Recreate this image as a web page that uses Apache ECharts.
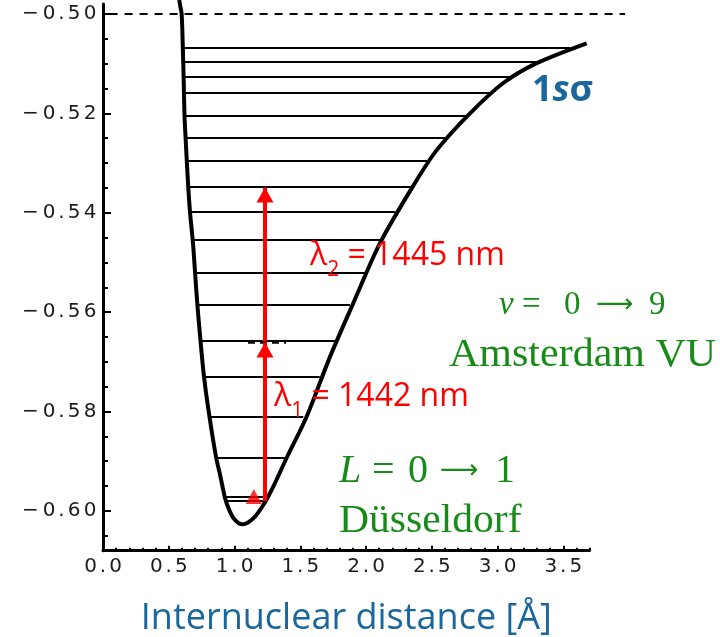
<!DOCTYPE html>
<html><head><meta charset="utf-8">
<script src="https://cdn.jsdelivr.net/npm/echarts@6/dist/echarts.min.js"></script>
<style>html,body{margin:0;padding:0;background:#fff}#c{width:720px;height:637px}</style>
</head><body><div id="c"></div>
<script>
// ---- data ----
const curveR = [0.580, 0.586, 0.598, 0.607, 0.613, 0.620, 0.628, 0.637, 0.648, 0.662, 0.684, 0.700, 0.718, 0.740, 0.768, 0.810, 0.860, 0.890, 0.925, 0.945, 0.991, 1.062,
                1.143, 1.219, 1.295, 1.397, 1.549, 1.726, 1.903, 2.1065, 2.370, 2.5376, 2.7909, 3.0441, 3.2981, 3.6783];
const curveE = [-0.4972, -0.4982, -0.5000, -0.5068, -0.5127, -0.5205, -0.5249, -0.5295, -0.5347, -0.5400, -0.5460, -0.5520, -0.5586, -0.5653, -0.5730, -0.5811, -0.5892, -0.5927, -0.5971, -0.5988, -0.6014, -0.6027,
                -0.6015, -0.5988, -0.5951, -0.5893, -0.5810, -0.5690, -0.5582, -0.5461, -0.5341, -0.5274, -0.5200, -0.5139, -0.5099, -0.5059];
const levelE     = [-0.5068, -0.5097, -0.5127, -0.5158, -0.5205, -0.5249, -0.5295, -0.5347, -0.5398, -0.5455, -0.5520, -0.5586, -0.5657, -0.5730, -0.5811, -0.5892, -0.5971, -0.5980];
const levelLeft  = [0.612, 0.614, 0.617, 0.622, 0.627, 0.634, 0.643, 0.654, 0.668, 0.688, 0.708, 0.726, 0.750, 0.776, 0.816, 0.866, 0.930, 0.937];
const levelRight = [3.551, 3.298, 3.120, 2.956, 2.766, 2.614, 2.487, 2.360, 2.221, 2.119, 2.005, 1.878, 1.763, 1.648, 1.523, 1.397, 1.240, 1.240];
const arrowR = 1.232;
const arrow1E = [-0.5980, -0.5661];
const arrow2E = [-0.5659, -0.5349];
const pumpR = 1.147, pumpE = -0.5971;
const midDashR = [1.103, 1.392], midDashE = -0.5661;
const limitR = [0.05, 3.97], limitE = -0.5;
const yTicks = [-0.60, -0.58, -0.56, -0.54, -0.52, -0.50];
const yMinorTicks = [-0.605, -0.595, -0.590, -0.585, -0.575, -0.570, -0.565, -0.555, -0.550, -0.545, -0.535, -0.530, -0.525, -0.515, -0.510, -0.505];
const xTicks = [0.0, 0.5, 1.0, 1.5, 2.0, 2.5, 3.0, 3.5];
const xMinorTicks = [0.1,0.2,0.3,0.4,0.6,0.7,0.8,0.9,1.1,1.2,1.3,1.4,1.6,1.7,1.8,1.9,2.1,2.2,2.3,2.4,2.6,2.7,2.8,2.9,3.1,3.2,3.3,3.4,3.6,3.7];
const xTitle = 'Internuclear distance [Å]';

const BLUE = '#19679c', GREEN = '#188a18', RED = '#ff0000';
const xMin = 0, xMax = 3.7, yMin = -0.608, yMax = -0.498;
const pxPerR = 131.5, pxPerE = 4970;

const chart = echarts.init(document.getElementById('c'), null, {renderer: 'canvas'});

// tick labels: each character in its own fixed-width cell (wide lettering like the reference)
const tf = {fontFamily: 'DejaVu Sans', fontSize: 20, color: '#1c1c1c', align: 'center'};
const tickRich = {d: {...tf, width: 16}, p: {...tf, width: 9}, m: {...tf, width: 21}};
function spaced(s) {
  return s.split('').map(ch => '{' + (ch === '\u2212' ? 'm' : ch === '.' ? 'p' : 'd') + '|' + ch + '}').join('');
}

const serif = 'Liberation Serif';

const option = {
  animation: false,
  grid: {left: 103, top: 4, width: (xMax - xMin) * pxPerR, height: (yMax - yMin) * pxPerE, outerBoundsMode: 'none', containLabel: false},
  xAxis: [
    {type: 'value', min: xMin, max: xMax, position: 'bottom',
     axisLine: {show: true, onZero: false, lineStyle: {color: '#000', width: 3}},
     axisTick: {show: true, inside: true, length: 5, customValues: xTicks, lineStyle: {color: '#000', width: 2}},
     axisLabel: {show: true, margin: 6, customValues: xTicks, formatter: v => spaced(v.toFixed(1)), rich: tickRich},
     splitLine: {show: false},
     name: xTitle, nameLocation: 'middle', nameGap: 50,
     nameTextStyle: {fontFamily: 'Open Sans', fontSize: 36, color: BLUE}},
    {type: 'value', min: xMin, max: xMax, position: 'bottom',
     axisLine: {show: false, onZero: false},
     axisTick: {show: true, inside: true, length: 3, customValues: xMinorTicks, lineStyle: {color: '#000', width: 2}},
     axisLabel: {show: false}, splitLine: {show: false}}
  ],
  yAxis: [
    {type: 'value', min: yMin, max: yMax, position: 'left',
     axisLine: {show: true, onZero: false, lineStyle: {color: '#000', width: 3}},
     axisTick: {show: true, inside: true, length: 8, customValues: yTicks, lineStyle: {color: '#000', width: 2}},
     axisLabel: {show: true, margin: 5, customValues: yTicks, formatter: v => spaced('\u2212' + Math.abs(v).toFixed(2)), rich: tickRich},
     splitLine: {show: false}},
    {type: 'value', min: yMin, max: yMax, position: 'left',
     axisLine: {show: false, onZero: false},
     axisTick: {show: true, inside: true, length: 5, customValues: yMinorTicks, lineStyle: {color: '#000', width: 2}},
     axisLabel: {show: false}, splitLine: {show: false}}
  ],
  series: [
    {type: 'lines', coordinateSystem: 'cartesian2d', z: 2,
     data: levelE.map((e, i) => ({coords: [[levelLeft[i], e], [levelRight[i], e]]})),
     lineStyle: {color: '#000', width: 2, opacity: 1}, symbol: 'none'},
    {type: 'line', clip: false, z: 3, symbol: 'none', smooth: 0.3,
     data: curveR.map((r, i) => [r, curveE[i]]),
     lineStyle: {color: '#000', width: 4}},
    {type: 'lines', coordinateSystem: 'cartesian2d', clip: false, z: 2, symbol: 'none',
     data: [{coords: [[limitR[0], limitE], [limitR[1], limitE]]}],
     lineStyle: {color: '#000', width: 2, type: [8, 7], opacity: 1}},
    {type: 'line', z: 4, symbol: 'none',
     data: [[midDashR[0], midDashE], [midDashR[1], midDashE]],
     lineStyle: {color: '#000', width: 2.5, type: [7, 5]}},
    {type: 'line', z: 5, symbol: 'none', itemStyle: {color: RED},
     data: [[arrowR, arrow1E[0]], {value: [arrowR, arrow1E[1]], symbol: 'triangle', symbolSize: [17, 15], symbolOffset: [0, '50%']}],
     lineStyle: {color: RED, width: 4}},
    {type: 'line', z: 5, symbol: 'none', itemStyle: {color: RED},
     data: [[arrowR, arrow2E[0]], {value: [arrowR, arrow2E[1]], symbol: 'triangle', symbolSize: [17, 15], symbolOffset: [0, '50%']}],
     lineStyle: {color: RED, width: 4}},
    {type: 'scatter', z: 6, symbol: 'triangle', symbolSize: [16, 15], itemStyle: {color: RED},
     data: [[pumpR, pumpE]]}
  ],
  graphic: [
    {type: 'text', x: 532, y: 73, z: 10,
     style: {text: '{b|1}{i|s}{b|σ}', fill: BLUE,
       rich: {b: {fontFamily: 'Open Sans', fontWeight: 'bold', fontSize: 36, fill: BLUE},
              i: {fontFamily: 'Open Sans', fontWeight: 'bold', fontStyle: 'italic', fontSize: 36, fill: BLUE}}}},
    {type: 'text', x: 310, y: 240, z: 10,
     style: {text: '{a|λ}{s|2}{a| = 1445 nm}', fill: RED,
       rich: {a: {fontFamily: 'Open Sans', fontSize: 32, fill: RED, verticalAlign: 'bottom', padding: [0, 0, 9, 0]},
              s: {fontFamily: 'Open Sans', fontSize: 21, fill: RED, verticalAlign: 'bottom'}}}},
    {type: 'text', x: 274, y: 381, z: 10,
     style: {text: '{a|λ}{s|1}{a| = 1442 nm}', fill: RED,
       rich: {a: {fontFamily: 'Open Sans', fontSize: 32, fill: RED, verticalAlign: 'bottom', padding: [0, 0, 9, 0]},
              s: {fontFamily: 'Open Sans', fontSize: 21, fill: RED, verticalAlign: 'bottom'}}}},
    {type: 'text', x: 499, y: 289, z: 10,
     style: {text: '{i|v}{e|=}{t|0}{r|⟶}{t|9}', fill: GREEN,
       rich: {
         i: {fontFamily: serif, fontStyle: 'italic', fontSize: 33, fill: GREEN, width: 23, align: 'left'},
         e: {fontFamily: serif, fontSize: 33, fill: GREEN, width: 42, align: 'left'},
         t: {fontFamily: serif, fontSize: 33, fill: GREEN, width: 32, align: 'left'},
         r: {fontFamily: 'DejaVu Sans', fontSize: 26, fill: GREEN, width: 53, align: 'left'}}}},
    {type: 'text', x: 449, y: 335, z: 10, scaleX: 1.05,
     style: {text: 'Amsterdam VU', fontFamily: serif, fontSize: 40, fill: GREEN}},
    {type: 'text', x: 339, y: 451, z: 10,
     style: {text: '{i|L}{e|=}{t|0}{r|⟶}{t|1}', fill: GREEN,
       rich: {
         i: {fontFamily: serif, fontStyle: 'italic', fontSize: 40, fill: GREEN, width: 33, align: 'left'},
         e: {fontFamily: serif, fontSize: 40, fill: GREEN, width: 36, align: 'left'},
         t: {fontFamily: serif, fontSize: 40, fill: GREEN, width: 32, align: 'left'},
         r: {fontFamily: 'DejaVu Sans', fontSize: 27, fill: GREEN, width: 55, align: 'left'}}}},
    {type: 'text', x: 339, y: 501, z: 10, scaleX: 1.04,
     style: {text: 'Düsseldorf', fontFamily: serif, fontSize: 40, fill: GREEN}}
  ]
};
chart.setOption(option);
</script></body></html>
